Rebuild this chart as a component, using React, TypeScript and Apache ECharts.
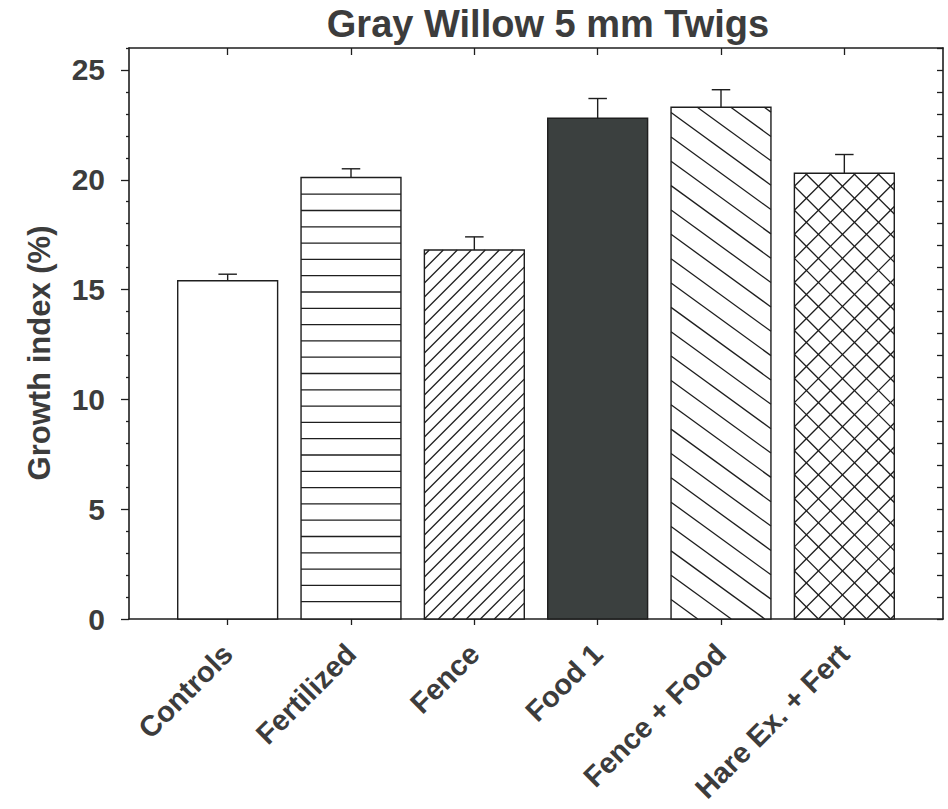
import React, { useEffect, useRef } from "react";
import * as echarts from "echarts";

const categories = ["Controls", "Fertilized", "Fence", "Food 1", "Fence + Food", "Hare Ex. + Fert"];
const means = [15.4, 20.1, 16.8, 22.8, 23.3, 20.3];
const errors = [0.3, 0.4, 0.6, 0.9, 0.8, 0.85];
const yMajorTicks = [0, 5, 10, 15, 20, 25];
const yMinorTicks = [1, 2, 3, 4, 6, 7, 8, 9, 11, 12, 13, 14, 16, 17, 18, 19, 21, 22, 23, 24, 26];
const yAllTicks = [0, 1, 2, 3, 4, 5, 6, 7, 8, 9, 10, 11, 12, 13, 14, 15, 16, 17, 18, 19, 20, 21, 22, 23, 24, 25, 26];
const xPositions = [1, 2, 3, 4, 5, 6];

// fill styles per bar: kind, angle (deg), perpendicular spacing (px), phase (px)
const barFills = [
  { kind: "empty" },
  { kind: "hatch", angles: [0], spacing: 16.3, phase: -1 },
  { kind: "hatch", angles: [45], spacing: 9.9, phase: 0 },
  { kind: "solid", color: "#3b403f" },
  { kind: "hatch", angles: [-36], spacing: 19.7, phase: 4 },
  { kind: "hatch", angles: [45, -45], spacing: 17, phase: 0 },
];

const INK = "#1e1e1e";
const TEXT = "#3c3c3c";
const FONT = "'Liberation Sans', Arial, Helvetica, sans-serif";

function clipLine(px: number, py: number, dx: number, dy: number, x0: number, y0: number, x1: number, y1: number) {
  let tmin = -Infinity;
  let tmax = Infinity;
  if (Math.abs(dx) < 1e-9) {
    if (px < x0 || px > x1) return null;
  } else {
    const t1 = (x0 - px) / dx, t2 = (x1 - px) / dx;
    tmin = Math.max(tmin, Math.min(t1, t2));
    tmax = Math.min(tmax, Math.max(t1, t2));
  }
  if (Math.abs(dy) < 1e-9) {
    if (py < y0 || py > y1) return null;
  } else {
    const t1 = (y0 - py) / dy, t2 = (y1 - py) / dy;
    tmin = Math.max(tmin, Math.min(t1, t2));
    tmax = Math.min(tmax, Math.max(t1, t2));
  }
  if (!(tmax - tmin > 0.5)) return null;
  return [px + dx * tmin, py + dy * tmin, px + dx * tmax, py + dy * tmax];
}

function hatchLines(x0: number, y0: number, x1: number, y1: number, angleDeg: number, spacing: number, phase: number) {
  const a = (angleDeg * Math.PI) / 180;
  const dx = Math.cos(a), dy = -Math.sin(a);
  const nx = -dy, ny = dx;
  const cs = [x0 * nx + y0 * ny, x1 * nx + y0 * ny, x0 * nx + y1 * ny, x1 * nx + y1 * ny];
  const cmin = Math.min(...cs), cmax = Math.max(...cs);
  const cref = x0 * nx + y1 * ny + phase;
  const k0 = Math.ceil((cmin - cref) / spacing);
  const k1 = Math.floor((cmax - cref) / spacing);
  const out: any[] = [];
  for (let k = k0; k <= k1; k++) {
    const c = cref + k * spacing;
    if (c - cmin < 2.5 || cmax - c < 2.5) continue;
    const seg = clipLine(nx * c, ny * c, dx, dy, x0, y0, x1, y1);
    if (seg) {
      out.push({
        type: "line",
        shape: { x1: seg[0], y1: seg[1], x2: seg[2], y2: seg[3] },
        style: { stroke: INK, lineWidth: 1.3 },
        silent: true,
      });
    }
  }
  return out;
}

export default function App() {
  const ref = useRef<HTMLDivElement>(null);
  useEffect(() => {
    if (!ref.current) return;
    const chart = echarts.init(ref.current, null, { renderer: "svg" });
    const axisLine = { show: true, onZero: false, lineStyle: { color: INK, width: 1.6 } };
    const tickStyle = { color: INK, width: 1.3 };
    const barData = xPositions.map((x, i) => [x, means[i], errors[i], i]);

    const option: any = {
      animation: false,
      backgroundColor: "#ffffff",
      title: {
        text: "Gray Willow 5 mm Twigs",
        left: 543,
        top: 0,
        textAlign: "center",
        textStyle: { fontFamily: FONT, fontSize: 38, fontWeight: "bold", color: TEXT },
      },
      grid: { left: 129, right: 5, top: 48, bottom: 190, containLabel: false },
      xAxis: [
        {
          type: "value",
          position: "bottom",
          min: 0.2,
          max: 6.8,
          axisLine,
          splitLine: { show: false },
          axisTick: { show: true, customValues: xPositions, length: 6, inside: false, lineStyle: tickStyle },
          axisLabel: {
            customValues: xPositions,
            formatter: (v: number) => categories[Math.round(v) - 1] ?? "",
            rotate: 45,
            margin: 30,
            fontFamily: FONT,
            fontSize: 29,
            fontWeight: "bold",
            color: TEXT,
          },
        },
        {
          type: "value",
          position: "top",
          min: 0.2,
          max: 6.8,
          axisLine,
          splitLine: { show: false },
          axisTick: { show: true, customValues: xPositions, length: 7, inside: true, lineStyle: tickStyle },
          axisLabel: { show: false },
        },
      ],
      yAxis: [
        {
          type: "value",
          position: "left",
          min: 0,
          max: 26,
          interval: 5,
          axisLine,
          splitLine: { show: false },
          axisTick: { show: true, customValues: yMajorTicks, length: 8, inside: false, lineStyle: tickStyle },
          axisLabel: {
            customValues: yMajorTicks,
            margin: 24,
            fontFamily: FONT,
            fontSize: 30,
            fontWeight: "bold",
            color: TEXT,
          },
        },
        {
          type: "value",
          position: "left",
          min: 0,
          max: 26,
          axisLine: { show: false },
          splitLine: { show: false },
          axisTick: { show: true, customValues: yMinorTicks, length: 3, inside: false, lineStyle: tickStyle },
          axisLabel: { show: false },
        },
        {
          type: "value",
          position: "right",
          min: 0,
          max: 26,
          axisLine,
          splitLine: { show: false },
          axisTick: { show: true, customValues: yAllTicks, length: 6, inside: true, lineStyle: tickStyle },
          axisLabel: { show: false },
        },
      ],
      graphic: [
        {
          type: "text",
          x: 39,
          y: 353,
          rotation: Math.PI / 2,
          style: {
            text: "Growth index (%)",
            fontFamily: FONT,
            fontSize: 31,
            fontWeight: "bold",
            fill: TEXT,
            align: "center",
            verticalAlign: "middle",
          },
        },
      ],
      series: [
        {
          type: "custom",
          xAxisIndex: 0,
          yAxisIndex: 0,
          data: barData,
          clip: false,
          renderItem: (params: any, api: any) => {
            const x = api.value(0);
            const v = api.value(1);
            const e = api.value(2);
            const idx = api.value(3);
            const base = api.coord([x, 0]);
            const top = api.coord([x, v]);
            const errTop = api.coord([x, v + e]);
            const w = api.size([0.81, 0])[0];
            const cap = api.size([0.15, 0])[0];
            const x0 = base[0] - w / 2, x1 = base[0] + w / 2;
            const y0 = top[1], y1 = base[1];
            const fill = barFills[idx];
            const children: any[] = [];
            children.push({
              type: "rect",
              shape: { x: x0, y: y0, width: w, height: y1 - y0 },
              style: { fill: fill.kind === "solid" ? (fill as any).color : "#ffffff", stroke: "none" },
            });
            if (fill.kind === "hatch") {
              for (const ang of (fill as any).angles) {
                children.push(...hatchLines(x0, y0, x1, y1, ang, (fill as any).spacing, (fill as any).phase));
              }
            }
            children.push({
              type: "rect",
              shape: { x: x0, y: y0, width: w, height: y1 - y0 },
              style: { fill: "none", stroke: INK, lineWidth: 1.4 },
            });
            children.push({
              type: "line",
              shape: { x1: top[0], y1: top[1], x2: errTop[0], y2: errTop[1] },
              style: { stroke: INK, lineWidth: 1.4 },
            });
            children.push({
              type: "line",
              shape: { x1: errTop[0] - cap / 2, y1: errTop[1], x2: errTop[0] + cap / 2, y2: errTop[1] },
              style: { stroke: INK, lineWidth: 1.4 },
            });
            return { type: "group", children };
          },
        },
      ],
    };
    chart.setOption(option);
    return () => chart.dispose();
  }, []);
  return (
    <div
      ref={ref}
      style={{ position: "fixed", left: 0, top: 0, width: 948, height: 809, background: "#fff" }}
    />
  );
}
